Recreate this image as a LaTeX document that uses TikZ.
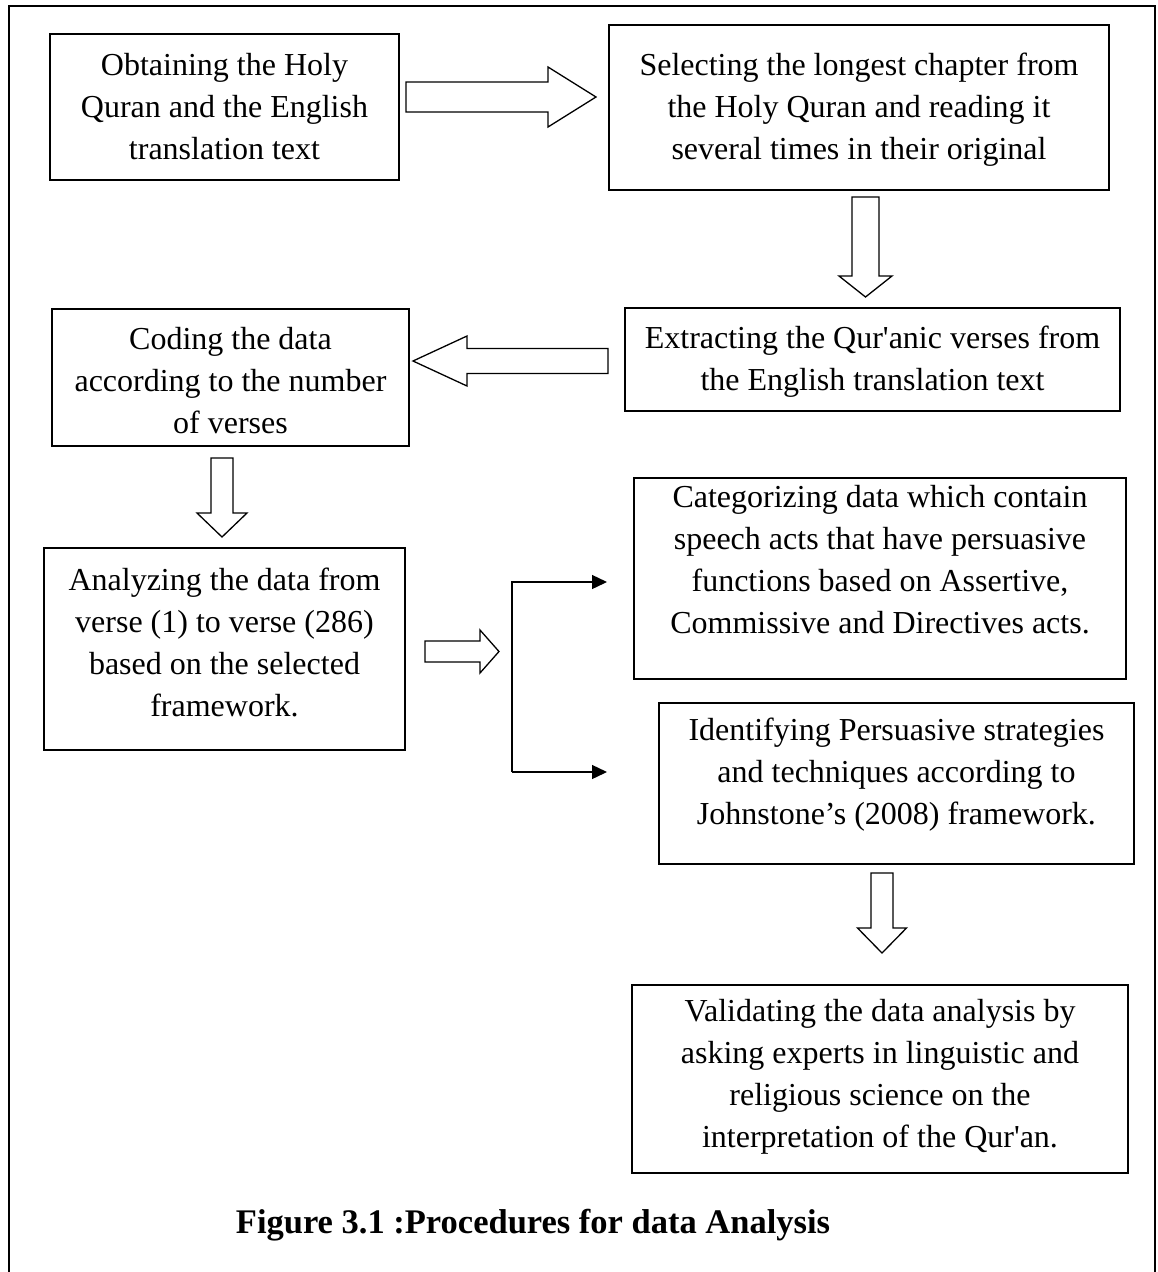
\documentclass[tikz,border=0pt]{standalone}
\usepackage{fontspec}
\setmainfont{Liberation Serif}[Ligatures=TeXOff]
\usetikzlibrary{arrows.meta}
\newcommand\blkarrow[6]{\draw[blockarrow, shift={#1}, rotate=#2] (0,#4) -- ({#3-#6},#4) -- ({#3-#6},#5) -- (#3,0) -- ({#3-#6},-#5) -- ({#3-#6},-#4) -- (0,-#4) -- cycle;}
\begin{document}
\begin{tikzpicture}[x=1pt,y=-1pt,
  box/.style={draw, line width=1.4pt, inner sep=0pt},
  txt/.style={align=center, font=\fontsize{32}{42}\selectfont, inner sep=0pt},
  blockarrow/.style={draw, line width=1.3pt, fill=white, line join=miter},
  bracket/.style={line width=1.4pt},
  tipend/.style={-{Triangle[length=15pt,width=14pt]}},
  frame/.style={line width=2.2pt}]
\useasboundingbox (0,0) rectangle (1157,1272);
\draw[frame] (9,1272) -- (9,6) -- (1155,6) -- (1155,1272);

% boxes
\node[box, minimum width=349pt, minimum height=146pt] (b1) at (224.5,107) {};
\node[box, minimum width=500pt, minimum height=165pt] (b2) at (859,107.5) {};
\node[box, minimum width=495pt, minimum height=103pt] (b3) at (872.5,359.5) {};
\node[box, minimum width=357pt, minimum height=137pt] (b4) at (230.5,377.5) {};
\node[box, minimum width=361pt, minimum height=202pt] (b5) at (224.5,649) {};
\node[box, minimum width=492pt, minimum height=201pt] (b6) at (880,578.5) {};
\node[box, minimum width=475pt, minimum height=161pt] (b7) at (896.5,783.5) {};
\node[box, minimum width=496pt, minimum height=188pt] (b8) at (880,1079) {};

% texts
\node[txt] (t1) at (b1.center) {Obtaining the Holy\\Quran and the English\\translation text};
\node[txt] (t2) at ([yshift=-2pt]b2.center) {Selecting the longest chapter from\\the Holy Quran and reading it\\several times in their original};
\node[txt] (t3) at ([yshift=-2pt]b3.center) {Extracting the Qur'anic verses from\\the English translation text};
\node[txt] (t4) at ([yshift=-3.5pt]b4.center) {Coding the data\\according to the number\\of verses};
\node[txt] (t5) at ([yshift=7pt]b5.center) {Analyzing the data from\\verse (1) to verse (286)\\based on the selected\\framework.};
\node[txt] (t6) at ([yshift=18.5pt]b6.center) {Categorizing data which contain\\speech acts that have persuasive\\functions based on Assertive,\\Commissive and Directives acts.};
\node[txt] (t7) at ([yshift=8.5pt]b7.center) {Identifying Persuasive strategies\\and techniques according to\\Johnstone’s (2008) framework.};
\node[txt] (t8) at ([yshift=2pt]b8.center) {Validating the data analysis by\\asking experts in linguistic and\\religious science on the\\interpretation of the Qur'an.};

% block arrows
\blkarrow{(406,97)}{0}{190}{15}{30}{48}
\blkarrow{(865.5,197)}{-90}{100}{13.5}{26.5}{21}
\blkarrow{(608,361)}{180}{195}{12.5}{25}{54}
\blkarrow{(222,458)}{-90}{79}{11}{25}{24}
\blkarrow{(425,651.5)}{0}{74}{10.5}{21.5}{19}
\blkarrow{(882,873)}{-90}{80}{11}{24.5}{25}

% bracket connector
\coordinate (bt) at (512,582);
\coordinate (bb) at (512,772);
\coordinate (et) at (607,582);
\coordinate (eb) at (607,772);
\draw[bracket, tipend] (bb) -- (bt) -- (et);
\draw[bracket, tipend] (bb) -- (eb);

% caption
\node[font=\bfseries\fontsize{34.5}{40}\selectfont, inner sep=0pt] (cap) at (533,1225) {Figure 3.1 :Procedures for data Analysis};
\end{tikzpicture}
\end{document}
